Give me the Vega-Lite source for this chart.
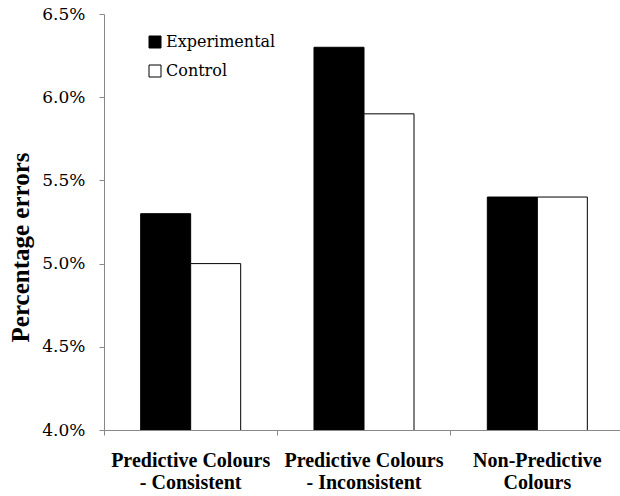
{
  "$schema": "https://vega.github.io/schema/vega-lite/v6.json",
  "width": 520,
  "height": 416,
  "autosize": {"type": "none"},
  "padding": {"left": 104, "top": 14, "right": 0, "bottom": 66},
  "background": "white",
  "config": {
    "view": {"stroke": null},
    "font": "Liberation Serif"
  },
  "data": {
    "values": [
      {"category": "Predictive Colours - Consistent", "group": "Experimental", "value": 5.3},
      {"category": "Predictive Colours - Consistent", "group": "Control", "value": 5.0},
      {"category": "Predictive Colours - Inconsistent", "group": "Experimental", "value": 6.3},
      {"category": "Predictive Colours - Inconsistent", "group": "Control", "value": 5.9},
      {"category": "Non-Predictive Colours", "group": "Experimental", "value": 5.4},
      {"category": "Non-Predictive Colours", "group": "Control", "value": 5.4}
    ]
  },
  "mark": {"type": "bar", "stroke": "black", "strokeWidth": 1, "clip": true},
  "encoding": {
    "x": {
      "field": "category",
      "type": "nominal",
      "sort": null,
      "scale": {"paddingInner": 0, "paddingOuter": 0},
      "axis": {
        "title": null,
        "labelAngle": 0,
        "bandPosition": 0,
        "domainColor": "#888888",
        "tickColor": "#888888",
        "tickSize": 5,
        "labelFont": "Liberation Serif",
        "labelFontWeight": "bold",
        "labelFontSize": 20,
        "labelColor": "black",
        "labelPadding": 15,
        "labelLineHeight": 22,
        "labelExpr": "datum.value == 'Non-Predictive Colours' ? ['Non-Predictive', 'Colours'] : [slice(datum.value, 0, 18), slice(datum.value, 19)]"
      }
    },
    "xOffset": {
      "field": "group",
      "type": "nominal",
      "sort": ["Experimental", "Control"],
      "scale": {"paddingInner": 0, "paddingOuter": 0.733}
    },
    "y": {
      "field": "value",
      "type": "quantitative",
      "scale": {"domain": [4.0, 6.5], "zero": false, "nice": false},
      "axis": {
        "title": "Percentage errors",
        "titleFont": "Liberation Serif",
        "titleFontWeight": "bold",
        "titleFontSize": 25,
        "titleColor": "black",
        "titlePadding": 8,
        "titleY": 233,
        "values": [4.0, 4.5, 5.0, 5.5, 6.0, 6.5],
        "labelExpr": "format(datum.value, '.1f') + '%'",
        "labelFont": "DejaVu Serif",
        "labelFontSize": 17,
        "labelColor": "black",
        "labelPadding": 14,
        "domainColor": "#888888",
        "tickColor": "#888888",
        "tickSize": 5,
        "grid": false
      }
    },
    "color": {
      "field": "group",
      "type": "nominal",
      "sort": ["Experimental", "Control"],
      "scale": {"domain": ["Experimental", "Control"], "range": ["black", "white"]},
      "legend": {
        "title": null,
        "orient": "none",
        "legendX": 43,
        "legendY": 20,
        "symbolType": "square",
        "symbolSize": 144,
        "symbolStrokeColor": "black",
        "symbolStrokeWidth": 1,
        "labelFont": "DejaVu Serif",
        "labelFontSize": 16,
        "labelColor": "black",
        "labelOffset": 3,
        "rowPadding": 13
      }
    }
  }
}
